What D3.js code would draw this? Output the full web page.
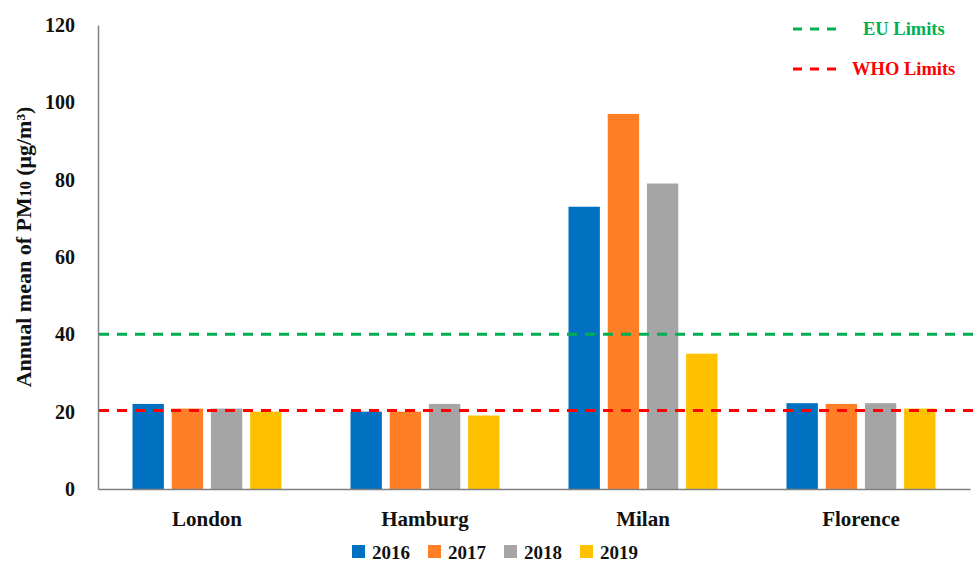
<!DOCTYPE html>
<html>
<head>
<meta charset="utf-8">
<script src="https://cdn.jsdelivr.net/npm/d3@7"></script>
<style>
  body { margin: 0; background: #fff; }
  text { font-family: "Liberation Serif", "DejaVu Serif", serif; font-weight: bold; }
</style>
</head>
<body>
<div id="chart"></div>
<script>
var cities = ["London", "Hamburg", "Milan", "Florence"];
var years = ["2016", "2017", "2018", "2019"];
var v2016 = [22, 20, 73, 22.2];
var v2017 = [20.8, 20, 97, 22];
var v2018 = [20.8, 22, 79, 22.2];
var v2019 = [20, 19, 35, 20.8];
var yTicks = [0, 20, 40, 60, 80, 100, 120];
var limits = [{name: "EU Limits", value: 40}, {name: "WHO Limits", value: 20.3}];

var colors = ["#0070C0", "#FF7F27", "#A5A5A5", "#FFC000"];
var limitColors = ["#00B050", "#FF0000"];
var series = [v2016, v2017, v2018, v2019];

var width = 976, height = 568;
var mLeft = 98, mRight = 970, mTop = 25, mBottom = 489;

var svg = d3.select("#chart").append("svg")
    .attr("width", width)
    .attr("height", height);

var x = d3.scaleBand()
    .domain(cities)
    .range([mLeft, mRight]);

var xi = d3.scaleBand()
    .domain(years)
    .range([34.5, x.bandwidth() - 34.5])
    .paddingInner(0.2);

var y = d3.scaleLinear()
    .domain([0, 120])
    .range([mBottom, mTop]);

// bars
var groups = svg.selectAll(".city")
    .data(cities)
    .enter()
    .append("g")
    .attr("transform", function(d) { return "translate(" + x(d) + ",0)"; });

groups.selectAll("rect")
    .data(function(d, i) {
        return years.map(function(yr, j) { return {year: yr, value: series[j][i], k: j}; });
    })
    .enter()
    .append("rect")
    .attr("x", function(d) { return xi(d.year); })
    .attr("width", xi.bandwidth())
    .attr("y", function(d) { return y(d.value); })
    .attr("height", function(d) { return mBottom - y(d.value); })
    .attr("fill", function(d) { return colors[d.k]; });

// axes
var yAxis = svg.append("g")
    .attr("transform", "translate(" + mLeft + ",0)")
    .call(d3.axisLeft(y).tickValues(yTicks).tickSize(0).tickPadding(23));
yAxis.select(".domain").attr("stroke", "#808080").attr("stroke-width", 1.5);
yAxis.selectAll("text")
    .attr("font-size", 20)
    .attr("font-family", "Liberation Serif")
    .attr("font-weight", "bold")
    .attr("fill", "#111");

var xAxis = svg.append("g")
    .attr("transform", "translate(0," + mBottom + ")")
    .call(d3.axisBottom(x).tickSize(0).tickPadding(22));
xAxis.select(".domain").attr("stroke", "#808080").attr("stroke-width", 1.5);
xAxis.selectAll("text")
    .attr("font-size", 21)
    .attr("font-family", "Liberation Serif")
    .attr("font-weight", "bold")
    .attr("fill", "#111");

// limit lines
svg.selectAll(".limit")
    .data(limits)
    .enter()
    .append("line")
    .attr("x1", mLeft + 1)
    .attr("x2", width)
    .attr("y1", function(d) { return y(d.value); })
    .attr("y2", function(d) { return y(d.value); })
    .attr("stroke", function(d, i) { return limitColors[i]; })
    .attr("stroke-width", 3)
    .attr("stroke-dasharray", "10,8");

// limit legend
var lleg = svg.selectAll(".lleg")
    .data(limits)
    .enter()
    .append("g")
    .attr("transform", function(d, i) { return "translate(793," + (29 + i * 40) + ")"; });
lleg.append("line")
    .attr("x1", 0).attr("x2", 46)
    .attr("stroke", function(d, i) { return limitColors[i]; })
    .attr("stroke-width", 3)
    .attr("stroke-dasharray", "9,8");
lleg.append("text")
    .attr("x", function(d, i) { return i === 0 ? 70 : 59; })
    .attr("dy", "0.35em")
    .attr("font-size", 18.5)
    .attr("fill", function(d, i) { return limitColors[i]; })
    .text(function(d) { return d.name; });

// y title
svg.append("text")
    .attr("transform", "translate(31,247) rotate(-90)")
    .attr("text-anchor", "middle")
    .attr("font-size", 22)
    .attr("fill", "#111")
    .html('Annual mean of PM<tspan font-size="16">10</tspan> (μg/m³)');

// year legend
var leg = svg.selectAll(".leg")
    .data(years)
    .enter()
    .append("g")
    .attr("transform", function(d, i) { return "translate(" + (352 + i * 76) + ",552)"; });
leg.append("rect")
    .attr("x", 0).attr("y", -7)
    .attr("width", 13).attr("height", 13)
    .attr("fill", function(d, i) { return colors[i]; });
leg.append("text")
    .attr("x", 20)
    .attr("dy", "0.35em")
    .attr("font-size", 19)
    .attr("fill", "#111")
    .text(function(d) { return d; });
</script>
</body>
</html>
